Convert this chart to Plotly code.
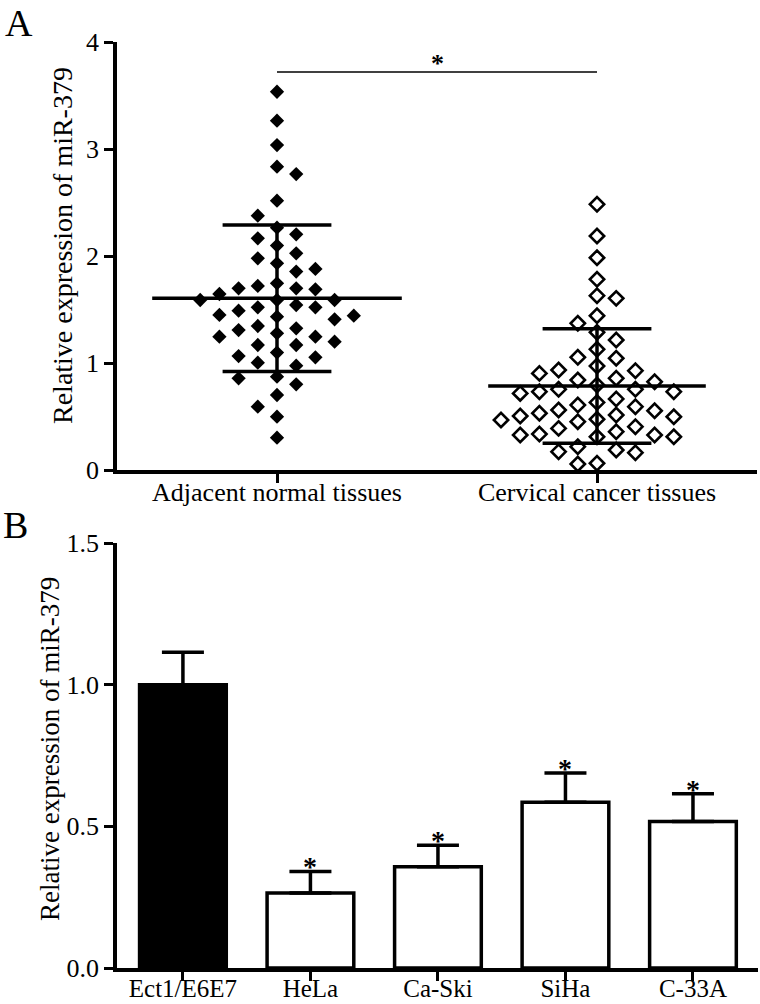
import numpy as np
import plotly.graph_objects as go

# ---------------- data: panel A ----------------
groups = ["Adjacent normal tissues", "Cervical cancer tissues"]
normal_vals = [3.535, 3.265, 3.037, 2.835, 2.766, 2.517, 2.377, 2.265, 2.165, 2.203,
               2.097, 1.978, 2.025, 1.932, 1.879, 1.854, 1.689, 1.745, 1.698, 1.698,
               1.720, 1.645, 1.589, 1.542, 1.589, 1.589, 1.489, 1.442, 1.408, 1.520,
               1.520, 1.433, 1.449, 1.277, 1.246, 1.324, 1.308, 1.346, 1.246, 1.168,
               1.168, 1.199, 1.053, 1.097, 1.065, 1.003, 0.975, 0.857, 0.872, 0.801,
               0.701, 0.592, 0.498, 0.302]
cancer_vals = [2.483, 2.187, 1.984, 1.782, 1.629, 1.604, 1.442, 1.371, 1.287, 1.215,
               1.128, 1.053, 1.044, 0.972, 0.928, 0.935, 0.903, 0.841, 0.794, 0.754,
               0.716, 0.732, 0.732, 0.754, 0.825, 0.857, 0.664, 0.607, 0.554, 0.530,
               0.505, 0.474, 0.498, 0.514, 0.561, 0.592, 0.632, 0.467, 0.405, 0.358,
               0.327, 0.311, 0.311, 0.327, 0.336, 0.389, 0.452, 0.187, 0.162, 0.171,
               0.218, 0.056, 0.063]
group_means = [1.605, 0.785]
group_sds = [0.685, 0.535]
sig_line_y = 3.72

# ---------------- data: panel B ----------------
cell_lines = ["Ect1/E6E7", "HeLa", "Ca-Ski", "SiHa", "C-33A"]
cell_means = [1.0, 0.265, 0.357, 0.585, 0.517]
cell_errs = [0.114, 0.076, 0.076, 0.103, 0.098]
cell_sig = [False, True, True, True, True]

# ---------------- geometry ----------------
W, H = 760, 1004
FONT = "Liberation Serif"
LW = 3.5


def px_x(p):
    return p / W


def px_y(p):
    return 1 - p / H


def swarm(vals, thr):
    """Greedy beeswarm: integer column index per point."""
    vals = np.asarray(vals)
    order = np.argsort(vals)[::-1]
    placed = {}
    cols = np.zeros(len(vals))
    toggle = 1
    for i in order:
        y = vals[i]
        k = 0
        while True:
            cands = [0] if k == 0 else [toggle * k, -toggle * k]
            hit = None
            for c in cands:
                if all(abs(y - yy) >= thr for yy in placed.get(c, [])):
                    hit = c
                    break
            if hit is not None:
                placed.setdefault(hit, []).append(y)
                cols[i] = hit
                if hit != 0:
                    toggle = -1 if hit > 0 else 1
                break
            k += 1
    return cols


col_step = 0.06       # x data units per swarm column
thr_y = 0.15          # y data units

fig = go.Figure()

# scatter points
for gi, (vals, sym) in enumerate([(normal_vals, "diamond"), (cancer_vals, "diamond-open")]):
    cols = swarm(vals, thr_y)
    fig.add_trace(go.Scatter(
        x=gi + cols * col_step, y=vals, mode="markers",
        marker=dict(symbol=sym, size=11, color="black",
                    line=dict(color="black", width=2.6 if sym.endswith("open") else 0)),
        cliponaxis=False, showlegend=False, xaxis="x", yaxis="y"))

# mean and SD lines
mean_half = [0.39, 0.34]
sd_half = 0.17
for gi in range(2):
    m, s = group_means[gi], group_sds[gi]
    fig.add_trace(go.Scatter(x=[gi - mean_half[gi], gi + mean_half[gi]], y=[m, m], mode="lines",
                             line=dict(color="black", width=LW), showlegend=False,
                             xaxis="x", yaxis="y", cliponaxis=False))
    for yy in (m + s, m - s):
        fig.add_trace(go.Scatter(x=[gi - sd_half, gi + sd_half], y=[yy, yy], mode="lines",
                                 line=dict(color="black", width=LW), showlegend=False,
                                 xaxis="x", yaxis="y", cliponaxis=False))
    fig.add_trace(go.Scatter(x=[gi, gi], y=[m - s, m + s], mode="lines",
                             line=dict(color="black", width=LW), showlegend=False,
                             xaxis="x", yaxis="y", cliponaxis=False))

# significance line
fig.add_trace(go.Scatter(x=[0, 1], y=[sig_line_y, sig_line_y], mode="lines",
                         line=dict(color="black", width=1.5), showlegend=False,
                         xaxis="x", yaxis="y", cliponaxis=False))

# ---------------- panel B bars ----------------
fill = ["black" if i == 0 else "white" for i in range(len(cell_lines))]
fig.add_trace(go.Bar(
    x=list(range(len(cell_lines))), y=cell_means, width=0.68,
    marker=dict(color=fill, line=dict(color="black", width=LW)),
    error_y=dict(type="data", symmetric=False, array=cell_errs,
                 arrayminus=[0] * len(cell_errs), color="black", thickness=LW, width=21),
    showlegend=False, xaxis="x2", yaxis="y2"))

annotations = []
annotations.append(dict(x=0.5, y=sig_line_y, xref="x", yref="y", text="<b>*</b>",
                        showarrow=False, xanchor="center", yanchor="bottom", yshift=-8,
                        font=dict(family=FONT, size=26, color="black")))
for i, (m, e, s) in enumerate(zip(cell_means, cell_errs, cell_sig)):
    if s:
        annotations.append(dict(x=i, y=m + e, xref="x2", yref="y2", text="<b>*</b>",
                                showarrow=False, xanchor="center", yanchor="bottom", yshift=-13,
                                font=dict(family=FONT, size=28, color="black")))

# axis titles and panel letters
annotations += [
    dict(x=px_x(62), y=px_y(246), xref="paper", yref="paper", text="Relative expression of miR-379",
         textangle=-90, showarrow=False, xanchor="center", yanchor="middle",
         font=dict(family=FONT, size=28, color="black")),
    dict(x=px_x(50), y=px_y(749), xref="paper", yref="paper", text="Relative expression of miR-379",
         textangle=-90, showarrow=False, xanchor="center", yanchor="middle",
         font=dict(family=FONT, size=27, color="black")),
    dict(x=px_x(3), y=px_y(0), xref="paper", yref="paper", text="A", xanchor="left", yanchor="top",
         showarrow=False, font=dict(family=FONT, size=38, color="black")),
    dict(x=px_x(1), y=px_y(502), xref="paper", yref="paper", text="B", xanchor="left", yanchor="top",
         showarrow=False, font=dict(family=FONT, size=38, color="black")),
]

axis_common = dict(showline=True, linewidth=LW, linecolor="black", ticks="outside",
                   ticklen=9, tickwidth=3, tickcolor="black", showgrid=False, zeroline=False,
                   automargin=False)
tick_font = dict(family=FONT, size=26, color="black")

fig.update_layout(
    width=W, height=H, margin=dict(l=0, r=0, t=0, b=0, pad=0, autoexpand=False),
    paper_bgcolor="white", plot_bgcolor="white",
    font=dict(family=FONT, color="black"),
    annotations=annotations,
    xaxis=dict(domain=[px_x(117), px_x(757)], range=[-0.5, 1.5], tickvals=[0, 1], ticktext=groups,
               anchor="y", ticklabelstandoff=-13, tickfont=tick_font, **axis_common),
    yaxis=dict(domain=[px_y(470), px_y(42)], range=[0, 4], tickvals=[0, 1, 2, 3, 4],
               anchor="x", tickfont=tick_font, **axis_common),
    xaxis2=dict(domain=[px_x(117), px_x(758)], range=[-0.517, 4.51],
                tickvals=list(range(len(cell_lines))), ticktext=cell_lines, anchor="y2",
                ticklabelstandoff=-14, tickfont=dict(family=FONT, size=25, color="black"),
                **axis_common),
    yaxis2=dict(domain=[px_y(968), px_y(543)], range=[0, 1.5], tickvals=[0, 0.5, 1.0, 1.5],
                tickformat=".1f", anchor="x2", tickfont=tick_font, **axis_common),
)

fig.write_html("out.html", config={"displayModeBar": False},
               post_script="document.body.style.margin='0';document.body.style.overflow='hidden';")
